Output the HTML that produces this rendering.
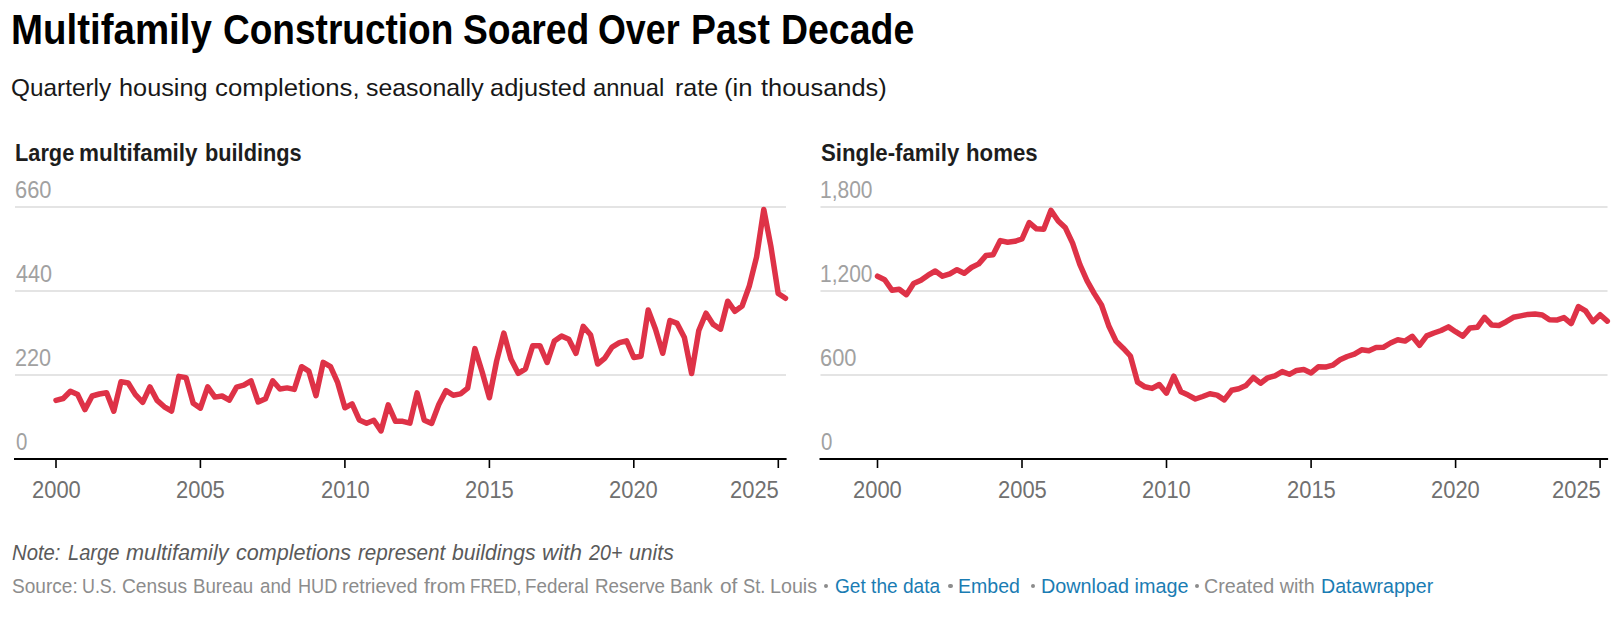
<!DOCTYPE html>
<html><head><meta charset="utf-8">
<style>
html,body{margin:0;padding:0;background:#fff;}
body{width:1618px;height:622px;position:relative;overflow:hidden;font-family:"Liberation Sans",sans-serif;}
.t{position:absolute;white-space:nowrap;transform-origin:0 0;line-height:1;}
.b{position:absolute;width:4.4px;height:4.4px;border-radius:50%;background:#8c8c8c;}
svg{position:absolute;left:0;top:0;}
.xl{font-size:22px;fill:#6f6f6f;font-family:"Liberation Sans",sans-serif;}
.yl{font-size:22px;fill:#a3a3a3;font-family:"Liberation Sans",sans-serif;}
.ln{fill:none;stroke:#de3247;stroke-width:5.5;stroke-linejoin:round;stroke-linecap:round;}
</style></head><body>
<svg width="1618" height="622" viewBox="0 0 1618 622">
<rect x="15" y="206" width="771" height="2" fill="#e4e4e4"/>
<rect x="15" y="290" width="771" height="2" fill="#e4e4e4"/>
<rect x="15" y="374" width="771" height="2" fill="#e4e4e4"/>
<rect x="14" y="458" width="772.6" height="2" fill="#000"/>
<rect x="55.2" y="460" width="1.6" height="8" fill="#000"/>
<rect x="199.6" y="460" width="1.6" height="8" fill="#000"/>
<rect x="344.1" y="460" width="1.6" height="8" fill="#000"/>
<rect x="488.6" y="460" width="1.6" height="8" fill="#000"/>
<rect x="633.0" y="460" width="1.6" height="8" fill="#000"/>
<rect x="777.5" y="460" width="1.6" height="8" fill="#000"/>
<rect x="820.5" y="206" width="787.0" height="2" fill="#e4e4e4"/>
<rect x="820.5" y="290" width="787.0" height="2" fill="#e4e4e4"/>
<rect x="820.5" y="374" width="787.0" height="2" fill="#e4e4e4"/>
<rect x="819.5" y="458" width="788.6" height="2" fill="#000"/>
<rect x="876.7" y="460" width="1.6" height="8" fill="#000"/>
<rect x="1021.2" y="460" width="1.6" height="8" fill="#000"/>
<rect x="1165.7" y="460" width="1.6" height="8" fill="#000"/>
<rect x="1310.3" y="460" width="1.6" height="8" fill="#000"/>
<rect x="1454.8" y="460" width="1.6" height="8" fill="#000"/>
<rect x="1599.3" y="460" width="1.6" height="8" fill="#000"/>
<polyline class="ln" points="56.0,400.4 63.2,398.5 70.4,391.3 77.7,394.6 84.9,409.6 92.1,396.0 99.3,394.0 106.6,392.7 113.8,411.2 121.0,381.7 128.2,383.0 135.4,394.6 142.7,402.3 149.9,386.9 157.1,400.4 164.3,406.8 171.6,411.0 178.8,376.4 186.0,377.6 193.2,403.3 200.4,408.1 207.7,386.9 214.9,397.1 222.1,396.0 229.3,400.2 236.6,387.1 243.8,385.2 251.0,380.8 258.2,402.0 265.5,398.7 272.7,380.8 279.9,389.0 287.1,387.9 294.3,389.4 301.6,366.7 308.8,371.1 316.0,395.6 323.2,362.4 330.5,366.7 337.7,382.7 344.9,407.8 352.1,403.9 359.3,419.9 366.6,423.2 373.8,420.3 381.0,430.9 388.2,404.9 395.5,421.3 402.7,421.3 409.9,423.2 417.1,392.9 424.3,420.3 431.6,423.4 438.8,404.5 446.0,390.6 453.2,395.2 460.5,393.9 467.7,388.1 474.9,348.6 482.1,371.7 489.4,397.8 496.6,361.1 503.8,333.1 511.0,359.2 518.2,373.3 525.5,368.8 532.7,345.7 539.9,345.7 547.1,362.5 554.4,340.9 561.6,336.0 568.8,339.3 576.0,353.4 583.2,326.4 590.5,334.7 597.7,364.0 604.9,358.1 612.1,347.1 619.4,342.7 626.6,340.8 633.8,357.5 641.0,356.2 648.2,309.9 655.5,329.2 662.7,353.3 669.9,320.5 677.1,323.4 684.4,337.5 691.6,373.5 698.8,330.5 706.0,313.2 713.2,324.4 720.5,329.2 727.7,301.2 734.9,311.3 742.1,306.0 749.4,285.7 756.6,256.8 763.8,209.5 771.0,247.1 778.2,293.5 785.5,298.3"/>
<polyline class="ln" points="877.5,276.2 884.7,279.7 892.0,290.3 899.2,289.3 906.4,294.7 913.6,283.5 920.9,280.3 928.1,275.2 935.3,271.0 942.5,276.2 949.8,273.9 957.0,269.7 964.2,273.3 971.4,267.5 978.7,263.9 985.9,255.6 993.1,254.7 1000.3,240.6 1007.6,242.2 1014.8,241.3 1022.0,239.0 1029.2,222.6 1036.5,228.8 1043.7,229.3 1050.9,210.4 1058.2,221.0 1065.4,227.8 1072.6,243.2 1079.8,264.4 1087.1,280.8 1094.3,293.6 1101.5,305.0 1108.7,325.7 1116.0,341.1 1123.2,348.2 1130.4,356.0 1137.6,382.2 1144.9,386.8 1152.1,388.4 1159.3,384.5 1166.5,393.2 1173.8,376.2 1181.0,391.8 1188.2,395.1 1195.4,399.0 1202.7,396.5 1209.9,393.8 1217.1,395.1 1224.3,399.9 1231.6,390.3 1238.8,388.7 1246.0,385.5 1253.3,377.5 1260.5,383.2 1267.7,377.8 1274.9,375.8 1282.2,371.6 1289.4,374.3 1296.6,370.4 1303.8,369.5 1311.1,372.9 1318.3,366.8 1325.5,367.1 1332.7,365.2 1340.0,359.8 1347.2,356.5 1354.4,354.2 1361.6,349.8 1368.9,350.8 1376.1,347.5 1383.3,347.3 1390.5,343.0 1397.8,339.8 1405.0,341.1 1412.2,336.3 1419.5,345.4 1426.7,335.9 1433.9,333.0 1441.1,330.5 1448.4,326.9 1455.6,331.7 1462.8,336.2 1470.0,327.9 1477.3,327.3 1484.5,317.3 1491.7,325.0 1498.9,325.5 1506.2,321.7 1513.4,317.3 1520.6,315.9 1527.8,314.4 1535.1,314.0 1542.3,314.9 1549.5,319.8 1556.7,320.1 1564.0,317.6 1571.2,323.6 1578.4,306.6 1585.6,310.9 1592.9,321.7 1600.1,314.7 1607.3,321.1"/>
</svg>
<div class="t" style="left:10.66px;top:8.82px;font-size:41.8px;font-weight:bold;font-style:normal;color:#000;transform:scaleX(0.9201);">Multifamily</div>
<div class="t" style="left:223.11px;top:8.82px;font-size:41.8px;font-weight:bold;font-style:normal;color:#000;transform:scaleX(0.8857);">Construction</div>
<div class="t" style="left:462.81px;top:8.82px;font-size:41.8px;font-weight:bold;font-style:normal;color:#000;transform:scaleX(0.8917);">Soared</div>
<div class="t" style="left:598.44px;top:8.82px;font-size:41.8px;font-weight:bold;font-style:normal;color:#000;transform:scaleX(0.8564);">Over</div>
<div class="t" style="left:691.01px;top:8.82px;font-size:41.8px;font-weight:bold;font-style:normal;color:#000;transform:scaleX(0.8938);">Past</div>
<div class="t" style="left:780.91px;top:8.82px;font-size:41.8px;font-weight:bold;font-style:normal;color:#000;transform:scaleX(0.8958);">Decade</div>
<div class="t" style="left:11.31px;top:75.98px;font-size:24.6px;font-weight:normal;font-style:normal;color:#181818;transform:scaleX(0.9907);">Quarterly</div>
<div class="t" style="left:119.17px;top:75.98px;font-size:24.6px;font-weight:normal;font-style:normal;color:#181818;transform:scaleX(1.0287);">housing</div>
<div class="t" style="left:214.95px;top:75.98px;font-size:24.6px;font-weight:normal;font-style:normal;color:#181818;transform:scaleX(1.0471);">completions,</div>
<div class="t" style="left:365.60px;top:75.98px;font-size:24.6px;font-weight:normal;font-style:normal;color:#181818;transform:scaleX(1.0119);">seasonally</div>
<div class="t" style="left:489.97px;top:75.98px;font-size:24.6px;font-weight:normal;font-style:normal;color:#181818;transform:scaleX(1.0339);">adjusted</div>
<div class="t" style="left:593.34px;top:75.98px;font-size:24.6px;font-weight:normal;font-style:normal;color:#181818;transform:scaleX(0.9637);">annual</div>
<div class="t" style="left:674.88px;top:75.98px;font-size:24.6px;font-weight:normal;font-style:normal;color:#181818;transform:scaleX(1.0196);">rate</div>
<div class="t" style="left:724.46px;top:75.98px;font-size:24.6px;font-weight:normal;font-style:normal;color:#181818;transform:scaleX(1.0408);">(in</div>
<div class="t" style="left:760.50px;top:75.98px;font-size:24.6px;font-weight:normal;font-style:normal;color:#181818;transform:scaleX(1.0332);">thousands)</div>
<div class="t" style="left:14.86px;top:141.96px;font-size:23.2px;font-weight:bold;font-style:normal;color:#1d1d1d;transform:scaleX(0.9382);">Large</div>
<div class="t" style="left:79.13px;top:141.96px;font-size:23.2px;font-weight:bold;font-style:normal;color:#1d1d1d;transform:scaleX(0.9687);">multifamily</div>
<div class="t" style="left:204.76px;top:141.96px;font-size:23.2px;font-weight:bold;font-style:normal;color:#1d1d1d;transform:scaleX(0.9382);">buildings</div>
<div class="t" style="left:820.80px;top:141.96px;font-size:23.2px;font-weight:bold;font-style:normal;color:#1d1d1d;transform:scaleX(0.9584);">Single-family</div>
<div class="t" style="left:965.54px;top:141.96px;font-size:23.2px;font-weight:bold;font-style:normal;color:#1d1d1d;transform:scaleX(0.9583);">homes</div>
<div class="t" style="left:11.70px;top:543.30px;font-size:21.5px;font-weight:normal;font-style:italic;color:#5a5a5a;transform:scaleX(0.9433);">Note:</div>
<div class="t" style="left:68.00px;top:543.30px;font-size:21.5px;font-weight:normal;font-style:italic;color:#5a5a5a;transform:scaleX(0.9340);">Large</div>
<div class="t" style="left:125.90px;top:543.30px;font-size:21.5px;font-weight:normal;font-style:italic;color:#5a5a5a;transform:scaleX(1.0108);">multifamily</div>
<div class="t" style="left:235.70px;top:543.30px;font-size:21.5px;font-weight:normal;font-style:italic;color:#5a5a5a;transform:scaleX(1.0028);">completions</div>
<div class="t" style="left:357.70px;top:543.30px;font-size:21.5px;font-weight:normal;font-style:italic;color:#5a5a5a;transform:scaleX(0.9602);">represent</div>
<div class="t" style="left:452.10px;top:543.30px;font-size:21.5px;font-weight:normal;font-style:italic;color:#5a5a5a;transform:scaleX(0.9857);">buildings</div>
<div class="t" style="left:541.96px;top:543.30px;font-size:21.5px;font-weight:normal;font-style:italic;color:#5a5a5a;transform:scaleX(1.0448);">with</div>
<div class="t" style="left:588.82px;top:543.30px;font-size:21.5px;font-weight:normal;font-style:italic;color:#5a5a5a;transform:scaleX(0.9156);">20+</div>
<div class="t" style="left:628.70px;top:543.30px;font-size:21.5px;font-weight:normal;font-style:italic;color:#5a5a5a;transform:scaleX(0.9854);">units</div>
<div class="t" style="left:11.70px;top:575.85px;font-size:20.5px;font-weight:normal;font-style:normal;color:#8c8c8c;transform:scaleX(0.9296);">Source:</div>
<div class="t" style="left:82.23px;top:575.85px;font-size:20.5px;font-weight:normal;font-style:normal;color:#8c8c8c;transform:scaleX(0.8716);">U.S.</div>
<div class="t" style="left:121.56px;top:575.85px;font-size:20.5px;font-weight:normal;font-style:normal;color:#8c8c8c;transform:scaleX(0.9362);">Census</div>
<div class="t" style="left:193.29px;top:575.85px;font-size:20.5px;font-weight:normal;font-style:normal;color:#8c8c8c;transform:scaleX(0.9103);">Bureau</div>
<div class="t" style="left:260.40px;top:575.85px;font-size:20.5px;font-weight:normal;font-style:normal;color:#8c8c8c;transform:scaleX(0.9141);">and</div>
<div class="t" style="left:297.62px;top:575.85px;font-size:20.5px;font-weight:normal;font-style:normal;color:#8c8c8c;transform:scaleX(0.8848);">HUD</div>
<div class="t" style="left:341.85px;top:575.85px;font-size:20.5px;font-weight:normal;font-style:normal;color:#8c8c8c;transform:scaleX(0.9470);">retrieved</div>
<div class="t" style="left:423.60px;top:575.85px;font-size:20.5px;font-weight:normal;font-style:normal;color:#8c8c8c;transform:scaleX(1.0144);">from</div>
<div class="t" style="left:469.77px;top:575.85px;font-size:20.5px;font-weight:normal;font-style:normal;color:#8c8c8c;transform:scaleX(0.8333);">FRED,</div>
<div class="t" style="left:525.48px;top:575.85px;font-size:20.5px;font-weight:normal;font-style:normal;color:#8c8c8c;transform:scaleX(0.9168);">Federal</div>
<div class="t" style="left:594.78px;top:575.85px;font-size:20.5px;font-weight:normal;font-style:normal;color:#8c8c8c;transform:scaleX(0.9181);">Reserve</div>
<div class="t" style="left:670.09px;top:575.85px;font-size:20.5px;font-weight:normal;font-style:normal;color:#8c8c8c;transform:scaleX(0.9102);">Bank</div>
<div class="t" style="left:719.50px;top:575.85px;font-size:20.5px;font-weight:normal;font-style:normal;color:#8c8c8c;transform:scaleX(1.0172);">of</div>
<div class="t" style="left:742.60px;top:575.85px;font-size:20.5px;font-weight:normal;font-style:normal;color:#8c8c8c;transform:scaleX(0.8901);">St.</div>
<div class="t" style="left:769.94px;top:575.85px;font-size:20.5px;font-weight:normal;font-style:normal;color:#8c8c8c;transform:scaleX(0.9611);">Louis</div>
<div class="t" style="left:835.17px;top:575.85px;font-size:20.5px;font-weight:normal;font-style:normal;color:#1a7cb3;transform:scaleX(0.9313);">Get the data</div>
<div class="t" style="left:957.85px;top:575.85px;font-size:20.5px;font-weight:normal;font-style:normal;color:#1a7cb3;transform:scaleX(0.9535);">Embed</div>
<div class="t" style="left:1040.93px;top:575.85px;font-size:20.5px;font-weight:normal;font-style:normal;color:#1a7cb3;transform:scaleX(0.9656);">Download image</div>
<div class="t" style="left:1320.64px;top:575.85px;font-size:20.5px;font-weight:normal;font-style:normal;color:#1a7cb3;transform:scaleX(0.9559);">Datawrapper</div>
<div class="t" style="left:1204.34px;top:575.85px;font-size:20.5px;font-weight:normal;font-style:normal;color:#8c8c8c;transform:scaleX(0.9623);">Created with</div>
<div class="t" style="left:31.65px;top:478.56px;font-size:23.2px;font-weight:normal;font-style:normal;color:#707070;transform:scaleX(0.9459);">2000</div>
<div class="t" style="left:176.10px;top:478.56px;font-size:23.2px;font-weight:normal;font-style:normal;color:#707070;transform:scaleX(0.9459);">2005</div>
<div class="t" style="left:320.55px;top:478.56px;font-size:23.2px;font-weight:normal;font-style:normal;color:#707070;transform:scaleX(0.9459);">2010</div>
<div class="t" style="left:465.00px;top:478.56px;font-size:23.2px;font-weight:normal;font-style:normal;color:#707070;transform:scaleX(0.9459);">2015</div>
<div class="t" style="left:609.45px;top:478.56px;font-size:23.2px;font-weight:normal;font-style:normal;color:#707070;transform:scaleX(0.9459);">2020</div>
<div class="t" style="left:729.90px;top:478.56px;font-size:23.2px;font-weight:normal;font-style:normal;color:#707070;transform:scaleX(0.9459);">2025</div>
<div class="t" style="left:853.15px;top:478.56px;font-size:23.2px;font-weight:normal;font-style:normal;color:#707070;transform:scaleX(0.9459);">2000</div>
<div class="t" style="left:997.67px;top:478.56px;font-size:23.2px;font-weight:normal;font-style:normal;color:#707070;transform:scaleX(0.9459);">2005</div>
<div class="t" style="left:1142.19px;top:478.56px;font-size:23.2px;font-weight:normal;font-style:normal;color:#707070;transform:scaleX(0.9459);">2010</div>
<div class="t" style="left:1286.71px;top:478.56px;font-size:23.2px;font-weight:normal;font-style:normal;color:#707070;transform:scaleX(0.9459);">2015</div>
<div class="t" style="left:1431.23px;top:478.56px;font-size:23.2px;font-weight:normal;font-style:normal;color:#707070;transform:scaleX(0.9459);">2020</div>
<div class="t" style="left:1551.75px;top:478.56px;font-size:23.2px;font-weight:normal;font-style:normal;color:#707070;transform:scaleX(0.9459);">2025</div>
<div class="t" style="left:14.86px;top:178.86px;font-size:23.2px;font-weight:normal;font-style:normal;color:#a1a1a1;transform:scaleX(0.9432);">660</div>
<div class="t" style="left:15.80px;top:262.86px;font-size:23.2px;font-weight:normal;font-style:normal;color:#a1a1a1;transform:scaleX(0.9314);">440</div>
<div class="t" style="left:14.87px;top:346.86px;font-size:23.2px;font-weight:normal;font-style:normal;color:#a1a1a1;transform:scaleX(0.9323);">220</div>
<div class="t" style="left:15.80px;top:430.86px;font-size:23.2px;font-weight:normal;font-style:normal;color:#a1a1a1;transform:scaleX(0.8833);">0</div>
<div class="t" style="left:820.49px;top:178.86px;font-size:23.2px;font-weight:normal;font-style:normal;color:#a1a1a1;transform:scaleX(0.9050);">1,800</div>
<div class="t" style="left:820.49px;top:262.86px;font-size:23.2px;font-weight:normal;font-style:normal;color:#a1a1a1;transform:scaleX(0.9050);">1,200</div>
<div class="t" style="left:820.36px;top:346.86px;font-size:23.2px;font-weight:normal;font-style:normal;color:#a1a1a1;transform:scaleX(0.9432);">600</div>
<div class="t" style="left:821.30px;top:430.86px;font-size:23.2px;font-weight:normal;font-style:normal;color:#a1a1a1;transform:scaleX(0.8833);">0</div>
<div class="b" style="left:823.8px;top:584px;"></div>
<div class="b" style="left:948.2px;top:584px;"></div>
<div class="b" style="left:1030.6px;top:584px;"></div>
<div class="b" style="left:1194.6px;top:584px;"></div>
</body></html>
